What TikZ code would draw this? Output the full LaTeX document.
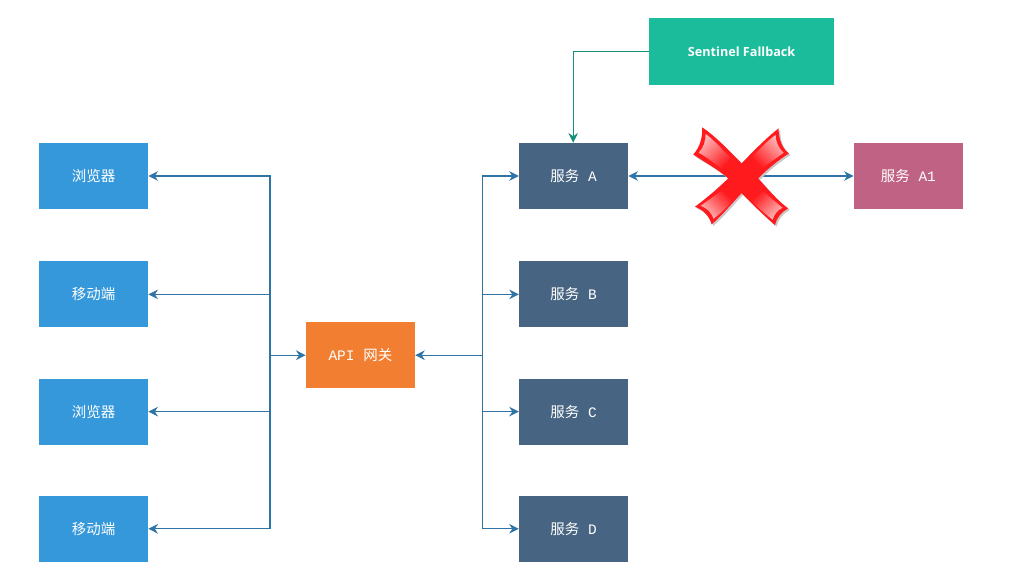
\documentclass[tikz,border=0pt]{standalone}
\usepackage{fontspec}
\setmainfont{Liberation Mono}
\newfontfamily\cjk{Noto Sans CJK SC}
\newfontfamily\titlefont{Open Sans}
\usetikzlibrary{positioning, arrows.meta}
\definecolor{clientblue}{HTML}{3498DB}
\definecolor{gateorange}{HTML}{F27E31}
\definecolor{serviceblue}{HTML}{476482}
\definecolor{podpink}{HTML}{C06283}
\definecolor{fallgreen}{HTML}{1ABC9C}
\definecolor{linkblue}{HTML}{2E75A6}
\definecolor{linkgreen}{HTML}{17907A}
\definecolor{crossred}{HTML}{FF1A1E}

\begin{document}
\begin{tikzpicture}[
  font=\fontsize{10.3}{12}\selectfont,
  every node/.style={align=center, text=white},
  flow/.style={-{Stealth[length=2.4mm,width=2.4mm]}, draw=linkblue, line width=0.75pt},
  fallflow/.style={flow, draw=linkgreen},
  boxbase/.style={inner sep=0pt, minimum width=2.725cm, minimum height=1.65cm},
  client/.style={boxbase, fill=clientblue},
  gateway/.style={boxbase, fill=gateorange},
  service/.style={boxbase, fill=serviceblue},
  podbox/.style={boxbase, fill=podpink},
  fallback/.style={boxbase, fill=fallgreen, minimum width=4.625cm, minimum height=1.675cm},
  armshade/.style={shading=axis, top color=crossred!30!white, bottom color=crossred},
]
\useasboundingbox (0,0) rectangle (25.6,-14.7);

% ---------- clients ----------
\node[client] (web1) at (2.34,-4.40) {\cjk 浏览器};
\node[client] (app1) at (2.34,-7.36) {\cjk 移动端};
\node[client] (web2) at (2.34,-10.29) {\cjk 浏览器};
\node[client] (app2) at (2.34,-13.22) {\cjk 移动端};

% ---------- gateway ----------
\node[gateway] (gate) at (9.01,-8.88) {API {\cjk 网关}};

% ---------- services ----------
\node[service] (srvA) at (14.34,-4.40) {{\cjk 服务} A};
\node[service] (srvB) at (14.34,-7.36) {{\cjk 服务} B};
\node[service] (srvC) at (14.34,-10.29) {{\cjk 服务} C};
\node[service] (srvD) at (14.34,-13.22) {{\cjk 服务} D};
\node[podbox] (srvA1) at (22.71,-4.40) {{\cjk 服务} A1};
\node[fallback] (sentinel) at (18.54,-1.29) {\fontsize{9}{11}\selectfont\titlefont\bfseries Sentinel Fallback};

% ---------- bus points ----------
\coordinate (busL) at (6.75,-8.88);
\coordinate (busR) at (12.07,-8.88);
\coordinate (fallTop) at (14.33,-1.29);

% ---------- arrows ----------
\draw[flow] (busL) |- (web1.east);
\draw[flow] (busL |- app1.east) -- (app1.east);
\draw[flow] (busL) |- (web2.east);
\draw[flow] (busL) |- (app2.east);
\draw[flow] (busL) -- (gate.west);
\draw[flow] (busR) -- (gate.east);
\draw[flow] (busR) |- (srvA.west);
\draw[flow] (busR |- srvB.west) -- (srvB.west);
\draw[flow] (busR) |- (srvC.west);
\draw[flow] (busR) |- (srvD.west);
\draw[flow, {Stealth[length=2.4mm,width=2.4mm]}-{Stealth[length=2.4mm,width=2.4mm]}] (srvA.east) -- (srvA1.west);
\draw[fallflow] (sentinel.west) -- (fallTop) -- (fallTop |- srvA.north);

% ---------- cross ----------
\begin{scope}[shift={(18.54,-4.42)}, x=0.025cm, y=-0.025cm]
  \def\crossoutline{(-39.4,-49.4) .. controls (-28,-42) and (-12,-26) .. (0,-13.4)
    .. controls (12,-26) and (26,-40) .. (37,-48.4)
    .. controls (37,-38) and (40,-29) .. (47.3,-23.4)
    .. controls (36,-16) and (26,-8) .. (16.6,1.6)
    .. controls (26,12) and (36,24) .. (46.6,31.6)
    .. controls (40,35) and (35,41) .. (33.3,48.3)
    .. controls (24,40) and (10,27) .. (0,16.3)
    .. controls (-10,27) and (-20,39) .. (-30,47.6)
    .. controls (-32,40) and (-38,33) .. (-46.7,30)
    .. controls (-36,22) and (-24,12) .. (-13.4,1.6)
    .. controls (-24,-8) and (-38,-15) .. (-48.4,-22.4)
    .. controls (-42,-29) and (-39,-39) .. (-39.4,-49.4) -- cycle}
  \fill[black!22, shift={(1.6,1.6)}] \crossoutline;
  \fill[crossred] \crossoutline;
  \shade[armshade, shading angle=45] (-36,-43) .. controls (-28,-37) and (-20,-28) .. (-10,-18) -- (-20,-8) .. controls (-28,-14) and (-35,-20) .. (-43,-24) .. controls (-38,-29) and (-36,-36) .. (-36,-43) -- cycle;
  \shade[armshade, shading angle=-45] (34,-42) .. controls (26,-36) and (18,-28) .. (10,-19) -- (21,-9) .. controls (28,-14) and (35,-19) .. (42,-24) .. controls (37,-29) and (34,-35) .. (34,-42) -- cycle;
  \shade[armshade, shading angle=135] (-20,14) -- (-9,24) .. controls (-16,32) and (-22,37) .. (-28,42) .. controls (-30,36) and (-35,31) .. (-41,29) .. controls (-34,24) and (-27,19) .. (-20,14) -- cycle;
  \shade[armshade, shading angle=-135] (21,14) -- (10,24) .. controls (16,31) and (24,37) .. (31,43) .. controls (33,37) and (36,33) .. (41,31) .. controls (35,26) and (28,20) .. (21,14) -- cycle;
\end{scope}

\end{tikzpicture}
\end{document}
